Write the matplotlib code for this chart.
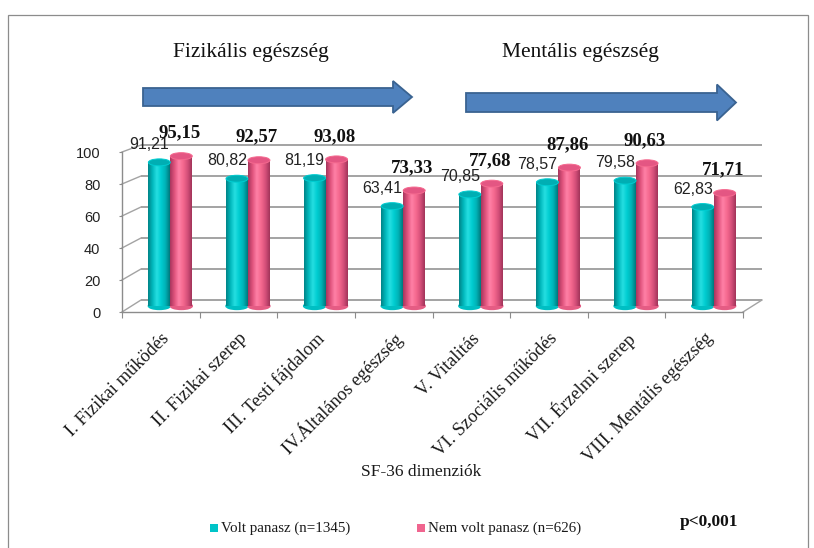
import numpy as np
import matplotlib
matplotlib.use("Agg")
import matplotlib.pyplot as plt
import matplotlib.transforms as mtransforms
from matplotlib.patches import Ellipse, Polygon, Rectangle
from matplotlib.colors import LinearSegmentedColormap
from matplotlib.lines import Line2D

## Data
categories = ["I. Fizikai működés", "II. Fizikai szerep", "III. Testi fájdalom",
              "IV.Általános egészség", "V. Vitalitás", "VI. Szociális működés",
              "VII. Érzelmi szerep", "VIII. Mentális egészség"]
volt_panasz = [91.21, 80.82, 81.19, 63.41, 70.85, 78.57, 79.58, 62.83]
nem_volt_panasz = [95.15, 92.57, 93.08, 73.33, 77.68, 87.86, 90.63, 71.71]
yticks = [0, 20, 40, 60, 80, 100]
series_names = ["Volt panasz (n=1345)", "Nem volt panasz (n=626)"]
groups = ["Fizikális egészség", "Mentális egészség"]

W, H = 814, 548
SERIF = "Liberation Serif"
SANS = "Liberation Sans"
GRID = "#A3A3A3"

fig = plt.figure(figsize=(W / 100, H / 100), dpi=100)
fig.patch.set_facecolor("white")


def fx(x):
    return x / W


def fy(y):
    return 1 - y / H


def rect(x0, x1, ytop, ybot):
    return [fx(x0), fy(ybot), (x1 - x0) / W, (ybot - ytop) / H]


# outer frame
fig.add_artist(Rectangle((fx(8), fy(560)), fx(808) - fx(8), fy(15) - fy(560),
                         transform=fig.transFigure, fill=False, ec="#8C8C8C", lw=0.9))

# three layers to fake the 3D box: back wall, bars, front axis
ax_back = fig.add_axes(rect(141, 762, 145, 300), zorder=0)
ax_mid = fig.add_axes(rect(131.5, 752.5, 148.5, 306), zorder=1)
ax = fig.add_axes(rect(122, 743, 152, 312), zorder=2)
n = len(categories)
for a in (ax_back, ax_mid, ax):
    a.set_xlim(0, n)
    a.set_ylim(0, 100)
    a.patch.set_alpha(0)
ax_back.axis("off")
ax_mid.axis("off")

# back wall gridlines
ax_back.hlines(yticks, 0, n, color=GRID, lw=1.4, clip_on=False)

# side wall / floor diagonals
to_fig = fig.transFigure.inverted()
for v in yticks:
    p0 = to_fig.transform(ax.transData.transform((0, v)))
    p1 = to_fig.transform(ax_back.transData.transform((0, v)))
    fig.add_artist(Line2D([p0[0], p1[0]], [p0[1], p1[1]], color=GRID, lw=1.0,
                          transform=fig.transFigure, zorder=0.5))
p0 = to_fig.transform(ax.transData.transform((n, 0)))
p1 = to_fig.transform(ax_back.transData.transform((n, 0)))
fig.add_artist(Line2D([p0[0], p1[0]], [p0[1], p1[1]], color=GRID, lw=1.0,
                      transform=fig.transFigure, zorder=0.5))

# cylinders
teal_cm = LinearSegmentedColormap.from_list(
    "teal", ["#008488", "#00B8BC", "#25DEE1", "#00CDD1", "#00B2B6", "#00797D"])
pink_cm = LinearSegmentedColormap.from_list(
    "pink", ["#A8365E", "#E0537D", "#FF80A6", "#F5698F", "#D6507A", "#A2345A"])
grad = np.linspace(0, 1, 64).reshape(1, -1)
bw = 0.283
eh = 4.4
x = np.arange(n) + 0.5

for vals, cm, top_c, off in [(volt_panasz, teal_cm, "#00AEB3", -bw / 2),
                             (nem_volt_panasz, pink_cm, "#E45683", bw / 2)]:
    for xi, v in zip(x, vals):
        xc = xi + off
        ax_mid.add_patch(Ellipse((xc, 0), bw, eh, color=cm(0.7), zorder=1.9, clip_on=False))
        ax_mid.imshow(grad, extent=[xc - bw / 2, xc + bw / 2, 0, v], aspect="auto",
                      cmap=cm, origin="lower", interpolation="bilinear", zorder=2)
        ax_mid.add_patch(Ellipse((xc, v), bw, eh, fc=top_c, ec=cm(0.6), lw=0.7,
                                 zorder=3, clip_on=False))
ax_mid.set_xlim(0, n)
ax_mid.set_ylim(0, 100)

# data labels
for xi, v in zip(x, volt_panasz):
    ax_mid.annotate(f"{v:.2f}".replace(".", ","), (xi - bw / 2, v), xytext=(-10, 18),
                    textcoords="offset pixels", ha="center", va="center",
                    family=SANS, fontsize=11.5, color="#222222", zorder=5)
for xi, v in zip(x, nem_volt_panasz):
    ax_mid.annotate(f"{v:.2f}".replace(".", ","), (xi + bw / 2, v), xytext=(-2, 23),
                    textcoords="offset pixels", ha="center", va="center",
                    family=SERIF, fontsize=13.5, fontweight="bold", color="#111111", zorder=5)

# front axis
for s in ["top", "right"]:
    ax.spines[s].set_visible(False)
for s in ["left", "bottom"]:
    ax.spines[s].set_color("#8C8C8C")
    ax.spines[s].set_linewidth(1.0)
ax.set_yticks(yticks)
ax.set_yticklabels([str(t) for t in yticks], family=SANS, fontsize=10.5, color="#222222")
ax.tick_params(axis="y", length=2.5, pad=13, color="#8C8C8C")
ax.set_xticks(np.arange(n + 1))
ax.set_xticklabels([])
ax.tick_params(axis="x", length=4, color="#8C8C8C", direction="out")

lab_tr = mtransforms.offset_copy(ax.get_xaxis_transform(), fig=fig, x=6, y=-24, units="dots")
for xi, lab in zip(x, categories):
    ax.text(xi, 0, lab, transform=lab_tr, rotation=45, rotation_mode="anchor",
            ha="right", va="center", family=SERIF, fontsize=13.2, color="#1A1A1A")

fig.text(fx(421), fy(472), "SF-36 dimenziók", ha="center", va="center",
         family=SERIF, fontsize=12.5, color="#1A1A1A")

# group titles and arrows
fig.text(fx(251), fy(52), groups[0], ha="center", va="center", family=SERIF,
         fontsize=15.5, color="#111111")
fig.text(fx(580), fy(53), groups[1], ha="center", va="center", family=SERIF,
         fontsize=15.5, color="#111111")


def arrow(x0, x_head, x_tip, yc, body, head):
    pts = [(x0, yc - body), (x_head, yc - body), (x_head, yc - head), (x_tip, yc),
           (x_head, yc + head), (x_head, yc + body), (x0, yc + body)]
    fig.add_artist(Polygon([(fx(a), fy(b)) for a, b in pts], closed=True,
                           transform=fig.transFigure, fc="#4F81BD", ec="#3A6391", lw=1.3))


arrow(143, 393, 412, 97, 9, 16)
arrow(466, 717, 736, 102.5, 9.5, 18)

# legend
for (cx, tx), name, c in zip([(214, 221), (421, 428)], series_names, ["#00C4C8", "#F0658F"]):
    fig.add_artist(Rectangle((fx(cx - 4), fy(532)), 8 / W, 8 / H, transform=fig.transFigure,
                             fc=c, ec="none"))
    fig.text(fx(tx), fy(528), name, ha="left", va="center", family=SERIF,
             fontsize=10.8, color="#1A1A1A")
fig.text(fx(680), fy(522), "p<0,001", ha="left", va="center", family=SERIF,
         fontsize=12.5, fontweight="bold", color="#111111")

fig.savefig("out.png", dpi=100)
